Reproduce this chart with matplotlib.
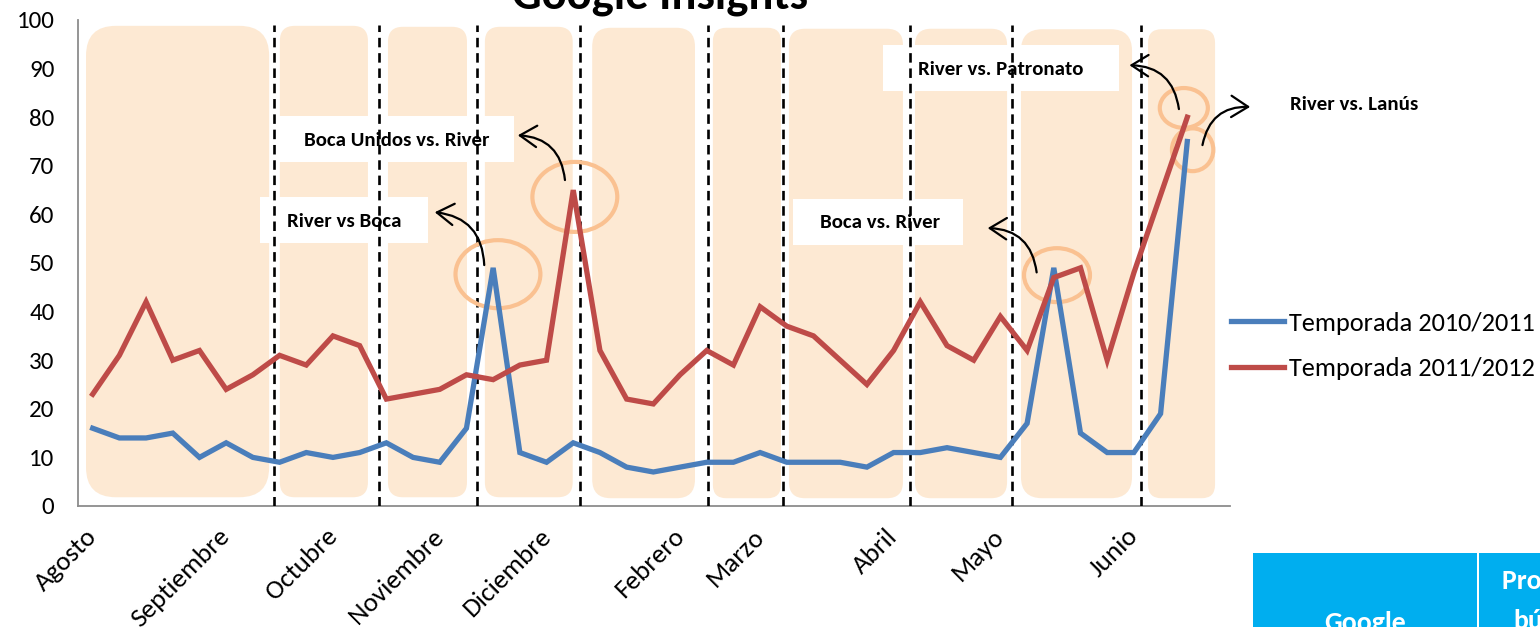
import matplotlib
matplotlib.use("Agg")
import matplotlib.pyplot as plt
from matplotlib.patches import FancyBboxPatch, Rectangle, Ellipse, FancyArrowPatch
import numpy as np

plt.rcParams['font.family'] = ['Carlito', 'Roboto Condensed', 'Roboto', 'DejaVu Sans']

# ---- data ----
blue_2010_2011 = [16, 14, 14, 15, 10, 13, 10, 9, 11, 10, 11, 13, 10, 9, 16, 49, 11, 9, 13, 11,
                  8, 7, 8, 9, 9, 11, 9, 9, 9, 8, 11, 11, 12, 11, 10, 17, 49, 15, 11, 11, 19, 75]
red_2011_2012 = [23, 31, 42, 30, 32, 24, 27, 31, 29, 35, 33, 22, 23, 24, 27, 26, 29, 30, 65, 32,
                 22, 21, 27, 32, 29, 41, 37, 35, 30, 25, 32, 42, 33, 30, 39, 32, 47, 49, 30, 48, 64, 80]
series_names = ["Temporada 2010/2011", "Temporada 2011/2012"]
month_labels = ["Agosto", "Septiembre", "Octubre", "Noviembre", "Diciembre",
                "Febrero", "Marzo", "Abril", "Mayo", "Junio"]
month_positions = [0, 5, 9, 13, 17, 22, 25, 30, 34, 39]
y_ticks = [0, 10, 20, 30, 40, 50, 60, 70, 80, 90, 100]

# decorative shapes (category units / value units)
bands = [(-0.25, 6.61, 1.8, 98.8, 1.12), (7.01, 10.31, 1.8, 98.8, 0.56),
         (11.06, 14.02, 1.8, 98.6, 0.56), (14.69, 17.98, 1.8, 98.6, 0.56),
         (18.71, 22.56, 1.6, 98.4, 0.7), (23.23, 25.78, 1.6, 98.4, 0.5),
         (26.08, 30.35, 1.6, 98.2, 0.6), (30.8, 34.25, 1.6, 98.2, 0.6),
         (34.77, 38.93, 1.6, 98.1, 0.8), (39.53, 42.04, 1.6, 98.1, 0.5)]
dash_lines = [6.81, 10.71, 14.39, 18.27, 23.04, 25.85, 30.61, 34.43, 39.26]
boxes = [(6.94, 15.78, 70.8, 80.2), (6.27, 12.56, 54.1, 63.6),
         (26.23, 32.6, 53.7, 63.2), (29.6, 38.44, 85.4, 94.9)]
notes = [("Boca Unidos vs. River", 7.91, 75.3), ("River vs Boca", 7.28, 58.6),
         ("Boca vs. River", 27.24, 58.4), ("River vs. Patronato", 30.91, 89.9),
         ("River vs. Lanús", 44.85, 82.7)]
rings = [(15.18, 47.7, 3.18, 14.0), (18.06, 63.6, 3.18, 14.4), (36.12, 47.5, 2.47, 11.1),
         (40.87, 81.9, 1.8, 8.2), (41.2, 73.3, 1.55, 8.8)]
arrows = [((14.67, 49.0), (12.71, 60.5), 0.45), ((17.7, 66.5), (15.82, 76.3), 0.45),
          ((35.37, 47.5), (33.42, 57.2), 0.45), ((40.7, 81.1), (38.73, 90.7), 0.45),
          ((41.55, 73.7), (43.46, 82.1), -0.45)]

W, H = 1540, 627
fig = plt.figure(figsize=(W / 100, H / 100), dpi=100)
ax = fig.add_axes([78 / W, 1 - 506 / H, (1230 - 78) / W, (506 - 20) / H])
ax.set_xlim(-0.55, 42.6)
ax.set_ylim(0, 100)

# pixel scale for rounded corners
px_x = (1230 - 78) / (42.6 + 0.55)
px_y = (506 - 20) / 100.0
asp = px_x / px_y

for (x0, x1, y0, y1, r) in bands:
    ax.add_patch(FancyBboxPatch((x0, y0), x1 - x0, y1 - y0,
                                boxstyle=f"round,pad=0,rounding_size={r}",
                                mutation_aspect=asp, facecolor="#FDE9D3",
                                edgecolor="none", zorder=1))

for (x0, x1, y0, y1) in boxes:
    ax.add_patch(Rectangle((x0, y0), x1 - x0, y1 - y0, facecolor="white",
                           edgecolor="none", zorder=2))

for (txt, x, y) in notes:
    ax.text(x, y, txt, fontsize=15, fontweight="bold", ha="left", va="center",
            zorder=2.5, clip_on=False)

ax.vlines(dash_lines, 0, 99, colors="black", linewidth=1.9,
          linestyles=(0, (3.6, 2.2)), zorder=3)

for (cx, cy, w, h) in rings:
    ax.add_patch(Ellipse((cx, cy), w, h, facecolor="none", edgecolor="#FAC191",
                         linewidth=3, zorder=3.5, clip_on=False))

x = np.arange(len(blue_2010_2011))
ax.plot(x, blue_2010_2011, color="#4A7EBB", linewidth=3.8, zorder=4,
        solid_joinstyle="miter", label=series_names[0])
ax.plot(x, red_2011_2012, color="#BE4B48", linewidth=3.8, zorder=4,
        solid_joinstyle="miter", label=series_names[1])

for (p0, p1, rad) in arrows:
    ax.add_patch(FancyArrowPatch(p0, p1, connectionstyle=f"arc3,rad={rad}",
                                 arrowstyle="->,head_length=0.55,head_width=0.35",
                                 mutation_scale=22, color="black", linewidth=1.6,
                                 zorder=5, clip_on=False))

for s in ["top", "right"]:
    ax.spines[s].set_visible(False)
for s in ["left", "bottom"]:
    ax.spines[s].set_color("#8C8C8C")
    ax.spines[s].set_linewidth(1.3)

ax.set_yticks(y_ticks)
ax.set_yticklabels([str(v) for v in y_ticks])
ax.tick_params(axis="y", length=0, pad=17, labelsize=18)
ax.set_xticks(month_positions)
ax.set_xticklabels(month_labels)
ax.tick_params(axis="x", length=0, pad=19, labelsize=19.5)
for lab in ax.get_xticklabels():
    lab.set_rotation(45)
    lab.set_rotation_mode("anchor")
    lab.set_ha("right")
    lab.set_va("center")

leg = ax.legend(loc="center left", bbox_to_anchor=(1231 / W, 1 - 346 / H),
                bbox_transform=fig.transFigure, frameon=False, fontsize=19,
                handlelength=2.0, handletextpad=0.19, labelspacing=0.86,
                borderpad=0, borderaxespad=0)

fig.text(660 / W, 1 - 8 / H, "Google Insights", ha="center", va="baseline",
         fontsize=33.5, fontweight="bold")

# table fragment bottom right
fig.patches.append(Rectangle((1253 / W, 0), (W - 1253) / W, (H - 553) / H,
                             transform=fig.transFigure, facecolor="#00AEEF",
                             edgecolor="none", zorder=0))
fig.patches.append(Rectangle((1477 / W, 0), 2 / W, (H - 553) / H,
                             transform=fig.transFigure, facecolor="white",
                             edgecolor="none", zorder=0.5))
fig.text(1365 / W, 1 - 611 / H, "Google", ha="center", va="top", color="white",
         fontsize=20, fontweight="bold")
fig.text(1502 / W, 1 - 569 / H, "Promedio de", ha="left", va="top", color="white",
         fontsize=20, fontweight="bold")
fig.text(1513 / W, 1 - 609 / H, "búsqueda", ha="left", va="top", color="white",
         fontsize=20, fontweight="bold")

fig.savefig("out.png", dpi=100)
